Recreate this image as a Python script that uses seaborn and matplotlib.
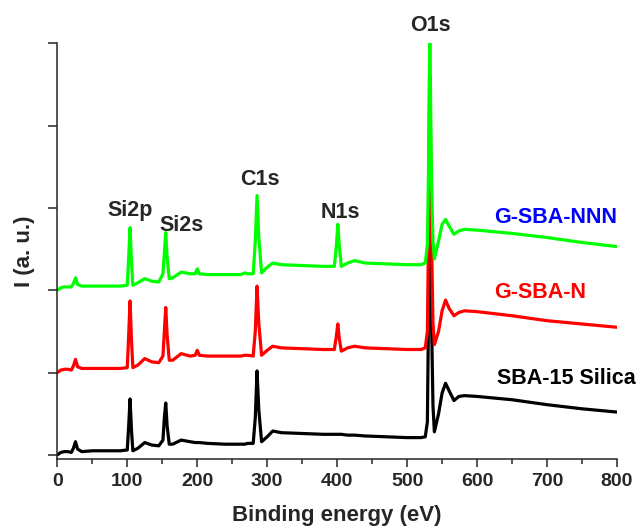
import pandas as pd
import seaborn as sns
import matplotlib.pyplot as plt
from matplotlib.ticker import MultipleLocator

# Binding energy grid (eV) and stacked intensities
energy = [0, 5, 10, 15, 20, 23, 26, 29, 35, 50, 70, 90, 100, 102, 104, 106, 108,
          115, 125, 135, 145, 151, 153, 155, 157, 160, 165, 177, 190, 197, 200,
          203, 215, 240, 262, 268, 272, 280, 283, 285.5, 288, 292, 300, 308, 320,
          350, 380, 396, 399, 401, 403, 406, 415, 425, 440, 470, 500, 520, 526,
          529, 530.5, 531.5, 532.5, 533.5, 535, 537, 539, 545, 550, 555, 560, 567,
          574, 582, 600, 650, 700, 750, 800]

silica = [0.0, 0.03, 0.04, 0.04, 0.03, 0.08, 0.16, 0.07, 0.04, 0.05, 0.05, 0.05,
          0.06, 0.35, 0.68, 0.30, 0.05, 0.08, 0.15, 0.12, 0.11, 0.18, 0.45, 0.63,
          0.35, 0.13, 0.13, 0.18, 0.16, 0.15, 0.15, 0.15, 0.14, 0.13, 0.13, 0.13,
          0.14, 0.14, 0.45, 1.02, 0.55, 0.16, 0.22, 0.29, 0.27, 0.26, 0.25, 0.25,
          0.25, 0.25, 0.25, 0.25, 0.24, 0.24, 0.23, 0.22, 0.21, 0.21, 0.22, 0.4,
          1.6, 2.8, 3.6, 2.8, 1.6, 0.6, 0.28, 0.5, 0.75, 0.87, 0.78, 0.66, 0.71,
          0.72, 0.71, 0.67, 0.61, 0.56, 0.52]

gsba_n = [1.0, 1.03, 1.04, 1.04, 1.03, 1.08, 1.16, 1.07, 1.05, 1.05, 1.05, 1.05,
          1.06, 1.45, 1.87, 1.40, 1.06, 1.09, 1.17, 1.13, 1.12, 1.2, 1.5, 1.79,
          1.45, 1.15, 1.15, 1.23, 1.2, 1.21, 1.27, 1.21, 1.2, 1.2, 1.2, 1.21,
          1.21, 1.2, 1.5, 2.05, 1.6, 1.21, 1.27, 1.32, 1.3, 1.29, 1.28, 1.28,
          1.45, 1.59, 1.42, 1.26, 1.3, 1.32, 1.3, 1.29, 1.28, 1.28, 1.3, 1.5,
          2.6, 3.8, 4.6, 3.8, 2.6, 1.6, 1.34, 1.5, 1.75, 1.88, 1.78, 1.69, 1.73,
          1.75, 1.74, 1.69, 1.63, 1.59, 1.55]

gsba_nnn = [2.0, 2.03, 2.04, 2.04, 2.04, 2.08, 2.15, 2.07, 2.05, 2.05, 2.05, 2.05,
            2.06, 2.40, 2.76, 2.35, 2.06, 2.09, 2.14, 2.11, 2.10, 2.2, 2.45, 2.70,
            2.40, 2.14, 2.15, 2.22, 2.2, 2.2, 2.26, 2.2, 2.19, 2.19, 2.19, 2.21,
            2.2, 2.2, 2.6, 3.15, 2.65, 2.21, 2.28, 2.33, 2.31, 2.3, 2.29, 2.29,
            2.55, 2.80, 2.55, 2.29, 2.33, 2.36, 2.33, 2.32, 2.31, 2.31, 2.33, 2.55,
            3.4, 4.4, 5.0, 4.4, 3.3, 2.6, 2.38, 2.6, 2.8, 2.86, 2.78, 2.68, 2.72,
            2.74, 2.73, 2.69, 2.64, 2.58, 2.53]

samples = ["SBA-15 Silica", "G-SBA-N", "G-SBA-NNN"]
peaks = ["Si2p", "Si2s", "C1s", "N1s", "O1s"]

df = pd.DataFrame({
    "energy": energy * 3,
    "intensity": silica + gsba_n + gsba_nnn,
    "sample": [s for s in samples for _ in energy],
})

sns.set_style("ticks")
plt.rcParams["font.family"] = ["Liberation Sans", "DejaVu Sans"]
plt.rcParams["font.weight"] = "bold"

fig = plt.figure(figsize=(6.44, 5.27), dpi=100)
ax = fig.add_axes([0.089, 0.129, 0.869, 0.789])

palette = {"SBA-15 Silica": "#000000", "G-SBA-N": "#ff0000", "G-SBA-NNN": "#00ff00"}

sns.lineplot(data=df, x="energy", y="intensity", hue="sample", hue_order=samples,
             palette=palette, linewidth=2.3, legend=False, ax=ax)

ax.set_xlim(0, 800)
ax.set_ylim(-0.05, 5)
ax.xaxis.set_major_locator(MultipleLocator(100))
ax.xaxis.set_minor_locator(MultipleLocator(50))
ax.set_yticks([0, 1, 2, 3, 4, 5])
ax.tick_params(axis="y", labelleft=False, length=6.5, width=1.1, direction="out")
ax.tick_params(axis="x", which="major", length=6, width=1.1, labelsize=14, pad=4)
ax.tick_params(axis="x", which="minor", length=3.5, width=1.1)
for lbl in ax.get_xticklabels():
    lbl.set_fontweight("bold")

sns.despine(ax=ax)
for side in ["left", "bottom"]:
    ax.spines[side].set_linewidth(1.1)

ax.set_xlabel("Binding energy (eV)", fontsize=16, fontweight="bold", labelpad=11)
ax.set_ylabel("I (a. u.)", fontsize=16, fontweight="bold")
ax.yaxis.set_label_coords(-0.04, 0.5)

# peak labels
peak_pos = [(104, 2.97), (177, 2.79), (290, 3.34), (404, 2.94), (534, 5.22)]
for name, (px, py) in zip(peaks, peak_pos):
    ax.text(px, py, name, ha="center", va="center", fontsize=15.5,
            fontweight="bold", clip_on=False)

ax.text(713, 2.88, "G-SBA-NNN", color="#0000ff", ha="center", va="center",
        fontsize=15.5, fontweight="bold")
ax.text(690, 1.97, "G-SBA-N", color="#ff0000", ha="center", va="center",
        fontsize=15.5, fontweight="bold")
ax.text(628, 0.93, "SBA-15 Silica", color="#000000", ha="left", va="center",
        fontsize=15.5, fontweight="bold", clip_on=False)

plt.savefig("out.png", dpi=100)
